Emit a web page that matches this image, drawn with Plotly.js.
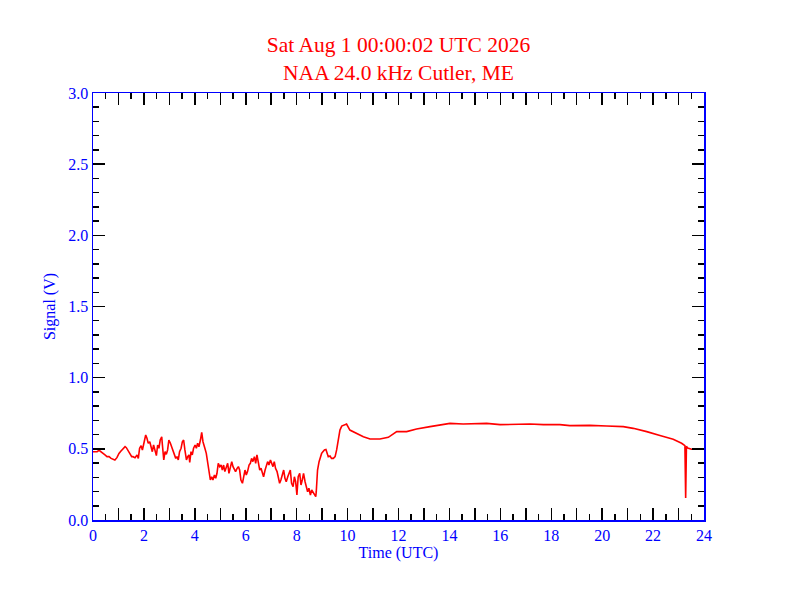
<!DOCTYPE html>
<html>
<head>
<meta charset="utf-8">
<script src="https://cdn.plot.ly/plotly-3.0.1.min.js"></script>
<style>
  html, body { margin: 0; padding: 0; background: #fff; }
  #PlotDiv { width: 792px; height: 612px; }
</style>
</head>
<body>
<div id="PlotDiv"></div>
<script>
// 標題文字
const TitleLines = ['Sat Aug 1 00:00:02 UTC 2026', 'NAA 24.0 kHz Cutler, ME'];

// 時間 (UTC 小時) 與訊號 (V)
const TimeHours = [
  0.00, 0.08, 0.16, 0.24, 0.31, 0.39, 0.47, 0.55, 0.63, 0.71, 0.79, 0.86, 0.94, 1.02, 1.10,
  1.18, 1.26, 1.31, 1.36, 1.41, 1.47, 1.52, 1.57, 1.65, 1.73, 1.78, 1.83, 1.89, 1.94, 1.99,
  2.04, 2.07, 2.12, 2.17, 2.23, 2.28, 2.33, 2.38, 2.43, 2.49, 2.54, 2.59, 2.64, 2.70, 2.72,
  2.78, 2.83, 2.88, 2.93, 2.98, 3.04, 3.09, 3.14, 3.19, 3.25, 3.30, 3.35, 3.40, 3.46, 3.51,
  3.56, 3.61, 3.67, 3.72, 3.77, 3.80, 3.85, 3.90, 3.95, 4.01, 4.06, 4.11, 4.16, 4.22, 4.27,
  4.32, 4.37, 4.40, 4.45, 4.50, 4.56, 4.61, 4.66, 4.71, 4.77, 4.82, 4.87, 4.92, 4.98, 5.03,
  5.08, 5.13, 5.18, 5.24, 5.29, 5.34, 5.39, 5.45, 5.50, 5.55, 5.60, 5.66, 5.71, 5.76, 5.81,
  5.87, 5.92, 5.97, 6.02, 6.07, 6.13, 6.18, 6.23, 6.28, 6.34, 6.39, 6.44, 6.49, 6.55, 6.60,
  6.65, 6.70, 6.76, 6.81, 6.86, 6.91, 6.97, 7.02, 7.07, 7.12, 7.17, 7.23, 7.28, 7.33, 7.38,
  7.44, 7.49, 7.54, 7.59, 7.65, 7.70, 7.75, 7.80, 7.86, 7.91, 7.96, 8.01, 8.06, 8.12, 8.17,
  8.22, 8.27, 8.33, 8.38, 8.43, 8.48, 8.54, 8.59, 8.64, 8.69, 8.75, 8.77, 8.82, 8.88, 8.93,
  8.98, 9.03, 9.09, 9.15, 9.24, 9.31, 9.37, 9.44, 9.51, 9.57, 9.64, 9.70, 9.77, 9.86, 9.96,
  10.09, 10.36, 10.62, 10.88, 11.27, 11.60, 11.80, 11.93, 12.32, 12.71, 13.24, 13.63, 14.02, 14.54, 15.46,
  15.99, 16.64, 17.16, 17.69, 18.34, 18.73, 19.52, 20.18, 20.83, 21.22, 21.75, 22.27, 22.79, 23.12, 23.25,
  23.28, 23.29, 23.31, 23.36, 23.51, 24.00
];
const SignalV = [
  0.480, 0.480, 0.480, 0.490, 0.480, 0.475, 0.457, 0.445, 0.445, 0.433, 0.424, 0.422, 0.438, 0.468, 0.485,
  0.499, 0.515, 0.508, 0.492, 0.480, 0.457, 0.445, 0.445, 0.438, 0.457, 0.433, 0.504, 0.522, 0.492, 0.527,
  0.562, 0.597, 0.574, 0.539, 0.550, 0.504, 0.480, 0.527, 0.492, 0.452, 0.527, 0.504, 0.562, 0.585, 0.539,
  0.422, 0.480, 0.461, 0.492, 0.562, 0.539, 0.515, 0.480, 0.457, 0.433, 0.445, 0.422, 0.480, 0.504, 0.550,
  0.562, 0.492, 0.422, 0.445, 0.457, 0.405, 0.480, 0.457, 0.504, 0.527, 0.504, 0.539, 0.515, 0.562, 0.616,
  0.550, 0.504, 0.500, 0.468, 0.398, 0.328, 0.281, 0.304, 0.281, 0.316, 0.293, 0.328, 0.398, 0.375, 0.386,
  0.351, 0.386, 0.340, 0.375, 0.398, 0.328, 0.375, 0.410, 0.375, 0.351, 0.340, 0.363, 0.375, 0.351, 0.281,
  0.258, 0.304, 0.351, 0.316, 0.340, 0.386, 0.398, 0.433, 0.410, 0.445, 0.398, 0.457, 0.398, 0.351, 0.363,
  0.328, 0.304, 0.351, 0.375, 0.410, 0.386, 0.421, 0.398, 0.375, 0.410, 0.363, 0.340, 0.293, 0.258, 0.281,
  0.316, 0.351, 0.293, 0.269, 0.304, 0.328, 0.351, 0.258, 0.234, 0.304, 0.269, 0.176, 0.304, 0.328, 0.246,
  0.281, 0.328, 0.269, 0.234, 0.199, 0.223, 0.176, 0.211, 0.199, 0.187, 0.164, 0.199, 0.351, 0.410, 0.445,
  0.468, 0.480, 0.492, 0.495, 0.445, 0.450, 0.433, 0.433, 0.445, 0.492, 0.574, 0.632, 0.660, 0.667, 0.674,
  0.632, 0.609, 0.585, 0.569, 0.569, 0.581, 0.609, 0.621, 0.621, 0.639, 0.656, 0.665, 0.679, 0.674, 0.679,
  0.670, 0.674, 0.674, 0.670, 0.670, 0.663, 0.665, 0.660, 0.656, 0.644, 0.621, 0.593, 0.567, 0.539, 0.522,
  0.155, 0.250, 0.518, 0.505, 0.497, 0.497
];

// 主要刻度 (每小時)，標籤只顯示偶數小時
const HourTicks = [];
const HourLabels = [];
for (let h=0;h<=24;h++) {
  HourTicks.push(h);
  HourLabels.push(h % 2 === 0 ? String(h) : '');
}

const SerifFont = 'Liberation Serif, Times New Roman, serif';

let tt = {
  x: TimeHours,
  y: SignalV,
  type: 'scatter',
  mode: 'lines',
  line: {color: '#ff0000', width: 1.6},
  hoverinfo: 'skip'
};

let layout = {
  width: 792,
  height: 612,
  margin: {l: 93, r: 88, t: 93, b: 92},
  paper_bgcolor: '#ffffff',
  plot_bgcolor: '#ffffff',
  showlegend: false,
  font: {family: SerifFont, size: 16, color: '#0000ff'},
  title: {
    text: TitleLines.join('<br>'),
    font: {family: SerifFont, size: 21.5, color: '#ff0000'},
    x: 0.5, xref: 'paper', xanchor: 'center',
    y: 1 - 52/612, yref: 'container', yanchor: 'top'
  },
  xaxis: {
    range: [0, 24],
    tickmode: 'array',
    tickvals: HourTicks,
    ticktext: HourLabels,
    ticks: 'inside',
    ticklen: 12,
    tickwidth: 1.5,
    tickcolor: '#000000',
    minor: {tickmode: 'linear', tick0: 0, dtick: 0.5, ticks: 'inside', ticklen: 6, tickwidth: 1.5, tickcolor: '#000000', showgrid: false},
    showline: true,
    linecolor: '#0000ff',
    linewidth: 1.5,
    mirror: 'allticks',
    showgrid: false,
    zeroline: false,
    tickfont: {family: SerifFont, size: 16, color: '#0000ff'},
    title: {text: 'Time (UTC)', font: {family: SerifFont, size: 16, color: '#0000ff'}, standoff: 2}
  },
  yaxis: {
    range: [0, 3],
    tickmode: 'linear',
    tick0: 0,
    dtick: 0.5,
    tickformat: '.1f',
    ticks: 'inside',
    ticklen: 12,
    tickwidth: 1.5,
    tickcolor: '#000000',
    minor: {tickmode: 'linear', tick0: 0, dtick: 0.1, ticks: 'inside', ticklen: 6, tickwidth: 1.5, tickcolor: '#000000', showgrid: false},
    showline: true,
    linecolor: '#0000ff',
    linewidth: 1.5,
    mirror: 'allticks',
    showgrid: false,
    zeroline: false,
    tickfont: {family: SerifFont, size: 16, color: '#0000ff'},
    title: {text: 'Signal (V)', font: {family: SerifFont, size: 16, color: '#0000ff'}, standoff: 8}
  }
};

Plotly.newPlot('PlotDiv', [tt], layout, {staticPlot: true, displayModeBar: false});
</script>
</body>
</html>
